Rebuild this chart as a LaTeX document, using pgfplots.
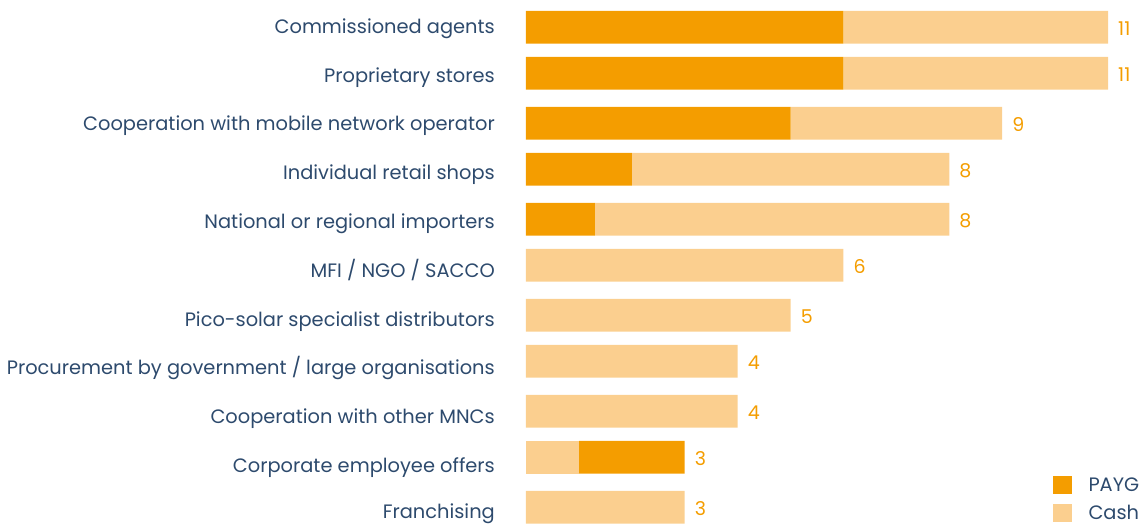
\documentclass[border=0pt]{standalone}
\usepackage{pgfplots}
\usepackage{pgfplotstable}
\usepackage{fontspec}
\setmainfont{Poppins}
\pgfplotsset{compat=1.18}
\definecolor{payg}{HTML}{F49D00}
\definecolor{cash}{HTML}{FBCF8F}
\definecolor{txt}{HTML}{2D4A6D}
% y = minus the bar centre, in pixels from the top
\pgfplotstableread{
y c1 p c2 tot
-27.3 0 6 5 11
-73.3 0 6 5 11
-123.3 0 5 4 9
-169.3 0 2 6 8
-219.3 0 1.3 6.7 8
-265.3 0 0 6 6
-315.3 0 0 5 5
-361.3 0 0 4 4
-411.3 0 0 4 4
-457.3 1 2 0 3
-507.3 0 0 3 3
}\datatable
\pgfplotsset{base/.style={
  at={(0pt,0pt)}, anchor=south west,
  scale only axis, width=582pt, height=525pt,
  xmin=0, xmax=11, ymin=-525, ymax=0,
  clip=false,
}}
\begin{document}
\begin{tikzpicture}
\begin{axis}[base,
  xbar stacked, bar width=32.7pt,
  axis x line=none, axis y line=left, y axis line style={draw=none},
  ytick={-25.8,-74.6,-123.4,-172.2,-221.0,-269.8,-318.6,-367.4,-416.2,-465.0,-511.0},
  yticklabels={Commissioned agents,Proprietary stores,Cooperation with mobile network operator,Individual retail shops,National or regional importers,MFI / NGO / SACCO,Pico-solar specialist distributors,Procurement by government / large organisations,Cooperation with other MNCs,Corporate employee offers,Franchising},
  yticklabel style={font=\fontsize{19.4}{22}\selectfont, text=txt, anchor=base east, inner sep=0pt, xshift=-31pt, yshift=-7.5pt},
  major tick length=0pt,
  legend style={at={(0.9055,0.004)}, anchor=south west, draw=none, fill=none, inner sep=0pt, row sep=8pt,
    font=\fontsize{19.4}{22}\selectfont, text=txt, legend cell align=left},
  legend image code/.code={\fill[#1] (0pt,-9.15pt) rectangle (18.3pt,9.15pt);},
]
\addplot[fill=cash, draw=none, forget plot] table[x=c1, y=y] {\datatable};
\addplot[fill=payg, draw=none] table[x=p, y=y] {\datatable};
\addplot[fill=cash, draw=none] table[x=c2, y=y] {\datatable};
\legend{\hspace{15pt}PAYG,\hspace{15pt}Cash}
\end{axis}
\begin{axis}[base, hide axis]
\addplot[draw=none, mark=none,
  nodes near coords={\pgfplotspointmeta}, point meta=explicit symbolic,
  every node near coord/.style={anchor=base west, inner sep=0pt, xshift=10pt, yshift=-8.65pt, text=payg, font=\fontsize{19}{22}\selectfont}]
  table[x=tot, y=y, meta=tot] {\datatable};
\end{axis}
\pgfresetboundingbox
\useasboundingbox (-526pt,0pt) rectangle (621pt,525pt);
\end{tikzpicture}
\end{document}
